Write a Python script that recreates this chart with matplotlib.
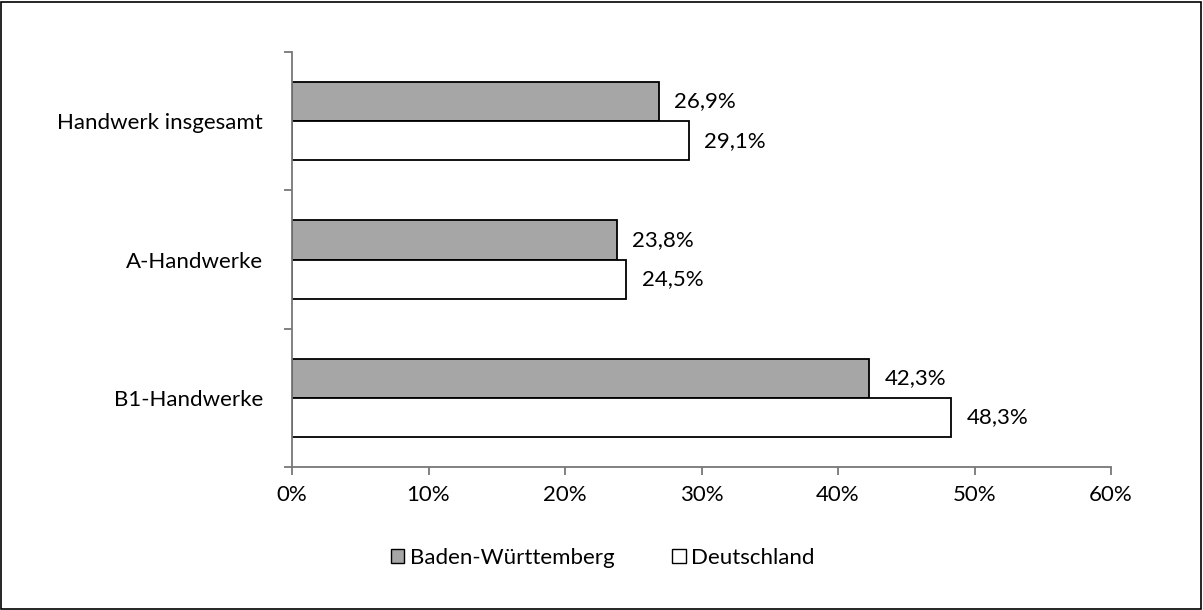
import numpy as np
import matplotlib.pyplot as plt
from matplotlib.patches import Rectangle, Patch

categories = ["Handwerk insgesamt", "A-Handwerke", "B1-Handwerke"]
bw_values = [26.9, 23.8, 42.3]
de_values = [29.1, 24.5, 48.3]
series_names = ["Baden-Württemberg", "Deutschland"]
x_ticks = [0, 10, 20, 30, 40, 50, 60]

plt.rcParams['font.family'] = ['Lato', 'DejaVu Sans']
fs = 16

fig = plt.figure(figsize=(12.03, 6.10), dpi=100)
ax = fig.add_axes([292 / 1203, 1 - 467 / 610, (1111 - 292) / 1203, (467 - 52) / 610])

y = np.arange(len(categories))[::-1]
h = 0.283
bars_bw = ax.barh(y + h / 2, bw_values, height=h, color='#a6a6a6', edgecolor='black', linewidth=1.3)
bars_de = ax.barh(y - h / 2, de_values, height=h, color='white', edgecolor='black', linewidth=1.3)

for bars, vals in [(bars_bw, bw_values), (bars_de, de_values)]:
    for b, v in zip(bars, vals):
        ax.annotate(f"{v:.1f}%".replace('.', ','), (v, b.get_y() + b.get_height() / 2),
                    xytext=(11, 0), textcoords='offset points', va='center', ha='left', fontsize=fs)

ax.set_xlim(0, 60)
ax.set_ylim(-0.5, 2.5)
ax.set_xticks(x_ticks)
ax.set_xticklabels([f"{t}%" for t in x_ticks], fontsize=fs)
ax.set_yticks(y)
ax.set_yticklabels(categories, fontsize=fs)
ax.tick_params(axis='y', length=0, pad=21)
ax.tick_params(axis='x', length=6, width=1.3, color='#777777', pad=7)
# Trennstriche zwischen den Kategorien
ax.set_yticks([-0.5, 0.5, 1.5, 2.5], minor=True)
ax.tick_params(axis='y', which='minor', length=6, width=1.3, color='#777777')

for s in ['top', 'right']:
    ax.spines[s].set_visible(False)
for s in ['left', 'bottom']:
    ax.spines[s].set_color('#777777')
    ax.spines[s].set_linewidth(1.3)

handles = [Patch(facecolor='#a6a6a6', edgecolor='black'), Patch(facecolor='white', edgecolor='black')]
fig.legend(handles, series_names, loc='center', bbox_to_anchor=(603 / 1203, 1 - 558 / 610),
           ncol=2, frameon=False, fontsize=fs, handlelength=0.6, handleheight=0.6,
           handletextpad=0.25, columnspacing=2.6)

fig.patches.append(Rectangle((0.001, 0.002), 0.997, 0.995, transform=fig.transFigure,
                             fill=False, edgecolor='black', linewidth=1.2))

fig.savefig('out.png', dpi=100)
